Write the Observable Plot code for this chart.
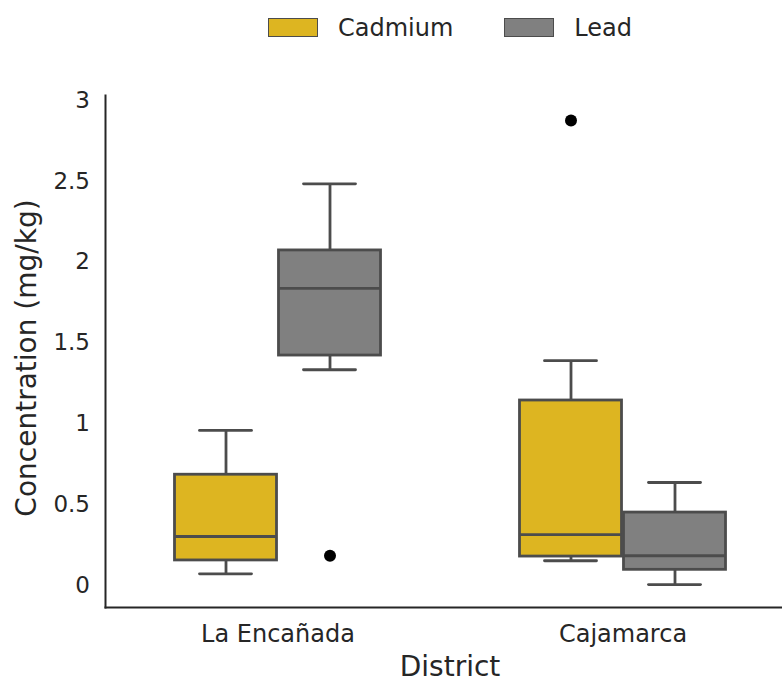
<!DOCTYPE html>
<html><head><meta charset="utf-8">
<script src="https://cdn.jsdelivr.net/npm/d3@7"></script>
<script src="https://cdn.jsdelivr.net/npm/@observablehq/plot@0.6"></script>
<style>
html,body{margin:0;padding:0;background:#fff;overflow:hidden;width:782px;height:679px;}
#legend{height:55px;margin-left:105px;width:690px;display:flex;justify-content:center;align-items:center;font-family:"DejaVu Sans";font-size:24px;color:#262626;}
.item{display:flex;align-items:center;}
.item + .item{margin-left:51px;}
.sw{width:48px;height:17px;border:1.5px solid #4c4c4c;margin-right:20px;}
#chart svg{display:block;}
</style></head><body>
<div id="legend"></div><div id="chart"></div>
<script>
const districts = ["La Encañada", "Cajamarca"];
const metals = ["Cadmium", "Lead"];
const metalColors = ["#DDB521", "#808080"];
// box statistics, ordered La Encañada/Cadmium, La Encañada/Lead, Cajamarca/Cadmium, Cajamarca/Lead
const whiskerLow  = [0.072, 1.334, 0.153, 0.006];
const q1          = [0.155, 1.422, 0.179, 0.097];
const median      = [0.303, 1.837, 0.315, 0.184];
const q3          = [0.685, 2.072, 1.144, 0.451];
const whiskerHigh = [0.959, 2.484, 1.390, 0.637];
const outlierDistrict = ["La Encañada", "Cajamarca"];
const outlierMetal    = ["Lead", "Cadmium"];
const outlierValue    = [0.184, 2.876];
const yTicks = [0, 0.5, 1, 1.5, 2, 2.5, 3];

const rows = [];
districts.forEach((d, i) => metals.forEach((m, j) => {
  const k = i * metals.length + j;
  rows.push({district: d, metal: m, lo: whiskerLow[k], q1: q1[k], med: median[k], q3: q3[k], hi: whiskerHigh[k]});
}));
const outliers = outlierValue.map((v, i) => ({district: outlierDistrict[i], metal: outlierMetal[i], value: v}));

// legend
const lg = document.getElementById("legend");
metals.forEach((m, j) => {
  const it = document.createElement("div"); it.className = "item";
  const sw = document.createElement("div"); sw.className = "sw"; sw.style.background = metalColors[j];
  const tx = document.createElement("span"); tx.textContent = m;
  it.appendChild(sw); it.appendChild(tx); lg.appendChild(it);
});

const edge = "#4c4c4c", sw = 2.8;
const xRange = [104.5, 794.5];
const bw = (xRange[1] - xRange[0]) / districts.length;
const step = 104, boxHalf = 51, capHalf = 26;

const marks = [];
metals.forEach((m, j) => {
  const off = (j - (metals.length - 1) / 2) * step;
  const data = rows.filter(r => r.metal === m);
  marks.push(
    Plot.ruleX(data, {x: "district", y1: "lo", y2: "q1", dx: off, stroke: edge, strokeWidth: sw}),
    Plot.ruleX(data, {x: "district", y1: "q3", y2: "hi", dx: off, stroke: edge, strokeWidth: sw}),
    Plot.tickY(data, {x: "district", y: "lo", dx: off, insetLeft: bw/2 - capHalf, insetRight: bw/2 - capHalf, stroke: edge, strokeWidth: sw, strokeLinecap: "round"}),
    Plot.tickY(data, {x: "district", y: "hi", dx: off, insetLeft: bw/2 - capHalf, insetRight: bw/2 - capHalf, stroke: edge, strokeWidth: sw, strokeLinecap: "round"}),
    Plot.barY(data, {x: "district", y1: "q1", y2: "q3", dx: off, insetLeft: bw/2 - boxHalf, insetRight: bw/2 - boxHalf, fill: "metal", stroke: edge, strokeWidth: sw}),
    Plot.tickY(data, {x: "district", y: "med", dx: off, insetLeft: bw/2 - boxHalf, insetRight: bw/2 - boxHalf, stroke: edge, strokeWidth: sw}),
    Plot.dot(outliers.filter(o => o.metal === m), {x: "district", y: "value", dx: off, r: 6, fill: "black", stroke: "none"})
  );
});

const chart = Plot.plot({
  width: 782, height: 624,
  marginLeft: 105, marginRight: 0, marginTop: 40, marginBottom: 72,
  style: {fontFamily: "DejaVu Sans", fontSize: "24px", color: "#262626", background: "#fff", overflow: "visible"},
  x: {type: "band", domain: districts, range: xRange, padding: 0},
  y: {domain: [-0.136, 3.03]},
  color: {domain: metals, range: metalColors},
  marks: [
    Plot.frame({anchor: "left", stroke: "#262626", strokeWidth: 2}),
    Plot.frame({anchor: "bottom", stroke: "#262626", strokeWidth: 2}),
    Plot.axisX({tickSize: 0, tickPadding: 17, label: null, fontSize: 24}),
    Plot.axisY({ticks: yTicks, tickSize: 0, tickPadding: 15.5, tickFormat: d => String(d), label: null, fontSize: 23}),
    ...marks,
    Plot.text(["District"], {frameAnchor: "bottom", lineAnchor: "middle", dy: 60, dx: 6, fontSize: 28, fill: "#262626"}),
    Plot.text(["Concentration (mg/kg)"], {frameAnchor: "left", textAnchor: "middle", rotate: -90, dx: -78, dy: 6.5, fontSize: 28, fill: "#262626"})
  ]
});
document.getElementById("chart").appendChild(chart);
</script>
</body></html>
